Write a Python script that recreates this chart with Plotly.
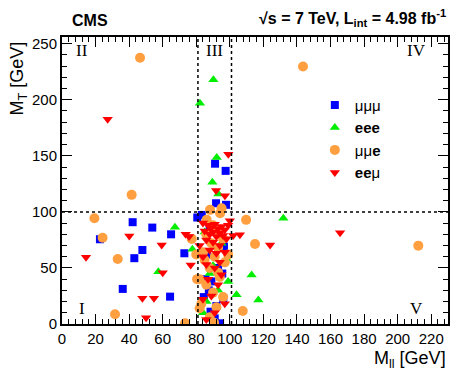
import plotly.graph_objects as go

# M_ll, M_T values [GeV] per channel
mmm_mll = [22.6, 42.1, 53.8, 65.0, 47.9, 43.1, 36.2, 64.4, 72.9,
           91.2, 97.5, 91.8, 97.7, 83.3, 80.6, 88.0, 96.5, 86.5, 93.0,
           95.5, 89.0, 87.5, 84.5, 96.1, 92.0, 88.5, 94.2, 91.0, 85.5]
mmm_mt = [75.6, 90.8, 86.0, 80.0, 66.0, 58.7, 31.3, 24.4, 63.1,
          143.0, 136.6, 107.7, 106.3, 97.3, 95.0, 84.0, 69.0, 62.0, 50.0,
          45.0, 38.0, 30.0, 24.0, 22.9, 16.0, 11.0, 0.6, 5.0, 40.0]

eee_mll = [67.3, 57.4, 77.7, 82.2, 90.2, 131.9, 113.0, 117.0, 104.0,
           92.2, 89.6, 93.2, 85.0, 95.0, 88.0, 99.0, 86.0, 93.0, 98.0, 84.0, 90.0]
eee_mt = [86.3, 46.7, 66.7, 197.0, 217.8, 94.4, 43.8, 21.4, 26.0,
          148.5, 126.5, 116.0, 82.0, 72.0, 45.0, 38.0, 20.0, 30.0, 58.0, 10.0, 52.0]

mme_mll = [46.5, 143.6, 41.5, 19.3, 24.2, 33.2, 31.6, 73.3, 77.3, 80.0,
           109.7, 115.0, 212.3, 107.7,
           88.2, 95.1, 94.2, 86.2, 90.0, 92.0, 86.0, 96.0, 89.0, 93.0, 84.0,
           91.0, 97.0, 88.0, 82.0, 94.0, 86.0, 90.0, 96.0, 83.0, 92.0, 88.0,
           90.6, 82.0, 99.0, 85.0, 93.0, 80.5]
mme_mt = [237.5, 229.7, 115.2, 94.4, 77.0, 58.0, 8.7, 0.6, 75.9, 62.0,
          92.9, 71.4, 69.9, 11.6,
          101.8, 103.3, 98.8, 92.9, 88.0, 84.0, 80.0, 76.0, 72.0, 68.0, 64.0,
          60.0, 55.0, 50.0, 40.0, 42.0, 35.0, 28.0, 24.0, 18.0, 15.0, 6.0,
          1.2, 14.0, 62.0, 57.0, 46.0, 40.0]

eem_mll = [27.2, 40.1, 59.4, 14.3, 60.0, 47.9, 54.8, 50.1, 73.7, 75.7, 76.7,
           165.7, 124.0, 102.0, 106.0,
           99.1, 91.8, 97.1, 84.0, 87.0, 89.0, 91.0, 93.0, 95.0, 97.0, 99.0,
           85.0, 88.0, 90.0, 92.0, 94.0, 96.0, 98.0, 86.0, 90.0, 94.0, 88.0,
           92.0, 84.0, 97.0, 86.0, 91.0, 95.0, 87.0, 93.0, 89.0, 84.0, 97.0,
           91.0, 86.0, 94.0, 100.0, 82.0]
eem_mt = [182.7, 78.6, 70.5, 59.5, 45.8, 22.9, 22.9, 5.6, 80.0, 78.0, 52.7,
          81.5, 70.5, 79.0, 79.5,
          151.5, 119.0, 114.3, 90.0, 88.0, 86.0, 89.0, 85.0, 87.0, 84.0, 88.0,
          83.0, 80.0, 82.0, 78.0, 81.0, 79.0, 76.0, 75.0, 73.0, 70.0, 66.0,
          63.0, 60.0, 64.0, 53.0, 50.0, 44.0, 40.0, 35.0, 25.0, 22.0, 18.0,
          10.0, 4.0, 55.0, 92.0, 70.0]

channels = [
    ("μμμ", mmm_mll, mmm_mt, "square", "#0000ff", 8),
    ("<b>eee</b>", eee_mll, eee_mt, "triangle-up", "#00ee00", 9),
    ("μμ<b>e</b>", mme_mll, mme_mt, "circle", "#ff9f40", 10),
    ("<b>ee</b>μ", eem_mll, eem_mt, "triangle-down", "#ff0000", 9),
]

fig = go.Figure()
for i, (name, xs, ys, symbol, color, size) in enumerate(channels):
    fig.add_trace(go.Scatter(
        x=xs, y=ys, mode="markers", name=name, legendgroup=str(i),
        marker=dict(symbol=symbol, color=color, size=size, line=dict(width=0)),
    ))

# Z window and M_T cut
dot = dict(color="black", width=1.5, dash="dot")
fig.add_shape(type="line", x0=0, x1=230, y0=100, y1=100, line=dot)
fig.add_shape(type="line", x0=81, x1=81, y0=0, y1=256, line=dot)
fig.add_shape(type="line", x0=101, x1=101, y0=0, y1=256, line=dot)

serif = dict(family="Liberation Serif", size=17, color="black")
for text, x, y in [("I", 12, 14), ("II", 12, 244), ("III", 91, 244),
                   ("IV", 211, 244), ("V", 211, 14)]:
    fig.add_annotation(x=x, y=y, text=text, showarrow=False, font=serif)

sans = "Liberation Sans"
fig.add_annotation(xref="paper", yref="paper", x=0.02, y=1.02, xanchor="left",
                   yanchor="bottom", showarrow=False,
                   text="<b>CMS</b>", font=dict(family=sans, size=16))
fig.add_annotation(xref="paper", yref="paper", x=1.0, y=1.02, xanchor="right",
                   yanchor="bottom", showarrow=False,
                   text="<b>√s = 7 TeV, L<sub>int</sub> = 4.98 fb<sup>-1</sup></b>",
                   font=dict(family=sans, size=16))
fig.add_annotation(xref="paper", yref="paper", x=1.0, y=-0.078, xanchor="right",
                   yanchor="top", showarrow=False,
                   text="M<sub>ll</sub> [GeV]", font=dict(family=sans, size=18))
fig.add_annotation(xref="paper", yref="paper", x=-0.112, y=0.855, xanchor="center",
                   yanchor="middle", showarrow=False, textangle=-90,
                   text="M<sub>T</sub> [GeV]", font=dict(family=sans, size=18))

axis = dict(
    showgrid=False, zeroline=False, showline=True, linecolor="black", linewidth=2,
    mirror="ticks", ticks="inside", ticklen=10, tickcolor="black", tickwidth=1,
    tickfont=dict(family=sans, size=15, color="black"),
)
# page body adds an 8px offset, so the figure is a little smaller than the window
fig.update_layout(
    width=465, height=365,
    margin=dict(l=54, r=25, t=29, b=49),
    plot_bgcolor="white", paper_bgcolor="white",
    font=dict(family=sans, size=15, color="black"),
    xaxis=dict(axis, range=[0, 230], dtick=20, tick0=0,
               minor=dict(ticks="inside", dtick=4, ticklen=5, tickcolor="black")),
    yaxis=dict(axis, range=[0, 256], dtick=50, tick0=0,
               minor=dict(ticks="inside", dtick=10, ticklen=5, tickcolor="black")),
    legend=dict(x=0.655, y=0.82, xanchor="left", yanchor="top", bgcolor="rgba(0,0,0,0)",
                traceorder="grouped", tracegroupgap=0, itemwidth=30,
                font=dict(family=sans, size=15)),
)

fig.write_html("out.html")
